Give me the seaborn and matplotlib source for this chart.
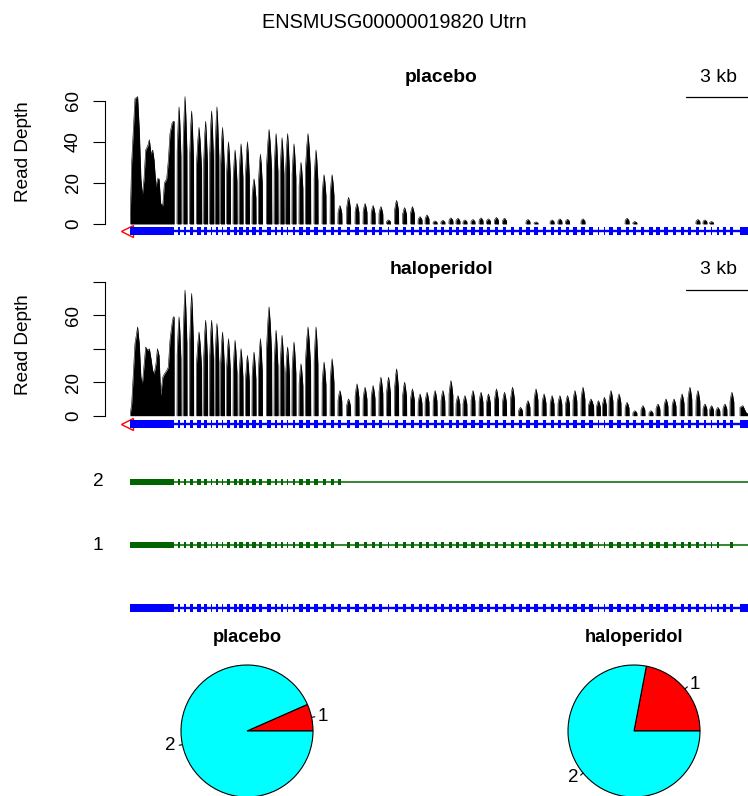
import matplotlib
matplotlib.use("Agg")
import matplotlib.pyplot as plt
from matplotlib.patches import Rectangle
from matplotlib.transforms import blended_transform_factory
import numpy as np
import pandas as pd
import seaborn as sns

# ---------------- data ----------------
gene_title = "ENSMUSG00000019820 Utrn"
conditions = ["placebo", "haloperidol"]
isoform_labels = ["1", "2"]
isoform_share_placebo = [0.066, 0.934]
isoform_share_haloperidol = [0.22, 0.78]
pie_colors = ["red", "cyan"]
scale_bar_kb = 3
scale_bar_label = "3 kb"
y_label = "Read Depth"

gene_span_kb = [0.0, 31.0]
first_exon_kb = [0.0, 2.14]
last_exon_kb = [29.61, 31.0]

exon_center_kb = [2.38, 2.67, 2.99, 3.35, 3.67, 3.96, 4.22, 4.49, 4.78, 5.10,
                  5.39, 5.70, 6.02, 6.33, 6.75, 7.09, 7.38, 7.65, 7.96, 8.30,
                  8.64, 9.03, 9.42, 9.81, 10.19, 10.61, 11.02, 11.41, 11.80, 12.18,
                  12.55, 12.94, 13.33, 13.71, 14.08, 14.42, 14.81, 15.19, 15.58, 15.92,
                  16.26, 16.65, 17.04, 17.40, 17.79, 18.18, 18.57, 18.96, 19.32, 19.71,
                  20.10, 20.49, 20.87, 21.24, 21.60, 21.99, 22.38, 22.74, 23.03, 23.35,
                  23.74, 24.13, 24.51, 24.90, 25.29, 25.63, 26.02, 26.41, 26.80, 27.18,
                  27.57, 27.91, 28.23, 28.54, 28.88, 29.22]
exon_len_bp = [60, 60, 150, 220, 150, 60, 60, 60, 150, 150,
               150, 150, 150, 150, 220, 60, 60, 60, 60, 150,
               220, 150, 150, 150, 150, 150, 150, 150, 150, 150,
               60, 150, 150, 150, 150, 150, 150, 150, 150, 150,
               150, 150, 150, 150, 150, 150, 150, 150, 150, 150,
               150, 150, 150, 150, 150, 150, 220, 60, 60, 150,
               150, 150, 150, 150, 150, 150, 150, 150, 150, 150,
               150, 60, 60, 60, 150, 150]

first_exon_cov_pos_kb = [0.00, 0.08, 0.24, 0.37, 0.45, 0.53, 0.60, 0.68, 0.76, 0.86,
                         0.94, 1.02, 1.10, 1.17, 1.26, 1.33, 1.41, 1.49, 1.59, 1.67,
                         1.78, 1.86, 1.94, 2.04, 2.10]
first_exon_cov_placebo = [0, 30, 61, 62, 46, 22, 14, 22, 36, 38,
                          41, 34, 36, 31, 18, 22, 22, 10, 9, 20,
                          22, 31, 44, 49, 50]
first_exon_cov_haloperidol = [0, 7, 43, 53, 43, 23, 19, 30, 41, 39,
                              40, 34, 27, 25, 31, 40, 36, 12, 23, 25,
                              27, 29, 45, 55, 59]

exon_peak_placebo = [57, 62, 55, 47, 50, 55, 57, 47, 40, 36,
                     39, 40, 22, 34, 46, 44, 42, 44, 39, 30,
                     44, 36, 24, 24, 9, 13, 10, 10, 9, 8.5,
                     2, 11.5, 8, 8.5, 3.6, 4.4, 1.5, 1.8, 3, 2.8,
                     2, 2.2, 3, 2.5, 3.2, 2.8, 0, 0, 2.2, 1,
                     0, 2, 2.5, 2.3, 0, 2.5, 0, 0, 0, 0,
                     0, 2.8, 1.2, 0, 0, 0, 0, 0, 0, 0,
                     2.2, 2.0, 1.2, 0, 0, 0]
exon_peak_haloperidol = [59, 75, 73, 50, 57, 57, 55, 50, 46, 45,
                         40, 36, 38, 46, 65, 51, 48, 41, 44, 31,
                         53, 53, 32, 34, 15, 10, 19, 17, 18, 23,
                         23, 28, 20, 16, 13, 14, 15, 15, 21, 12,
                         12, 15, 14, 13, 16, 14, 17, 5, 9, 16,
                         13, 12, 12, 12, 15, 17, 10, 9, 11, 15,
                         13, 8, 3, 6, 3, 7, 10, 10, 13, 17,
                         15, 7, 6, 5, 7, 14]
last_exon_cov_pos_kb = [29.61, 29.75, 29.90, 30.00]
last_exon_cov_placebo = [0, 0, 0, 0]
last_exon_cov_haloperidol = [5, 6, 2, 1]

# transcript structures (indices into exon_center_kb)
tx2_exon_ids = list(range(0, 25))
tx1_skipped_ids = [24, 74]
transcript_names = ["2", "1"]

yticks_placebo = [0, 20, 40, 60]
yticklabels_placebo = ["0", "20", "40", "60"]
yticks_haloperidol = [0, 20, 40, 60, 80]
yticklabels_haloperidol = ["0", "20", "", "60", ""]

# spike rendering template (shape of per-exon coverage)
spike_x = [0.0, 0.04, 0.3, 0.5, 0.7, 0.96, 1.0]
spike_shape = [0.0, 0.62, 0.88, 1.0, 0.86, 0.58, 0.0]

# ---------------- style ----------------
sns.set_theme(style="white")
plt.rcParams["font.family"] = ["Liberation Sans", "DejaVu Sans"]
plt.rcParams["text.color"] = "black"
plt.rcParams["axes.labelcolor"] = "black"
plt.rcParams["xtick.color"] = "black"
plt.rcParams["ytick.color"] = "black"

W, H = 748, 796
fig = plt.figure(figsize=(W / 100, H / 100), dpi=100)
fig.patch.set_facecolor("white")


def px_axes(left, top, right, bottom):
    return fig.add_axes([left / W, 1 - bottom / H, (right - left) / W, (bottom - top) / H])


def ftext(x, y, s, **kw):
    fig.text(x / W, 1 - y / H, s, ha=kw.pop("ha", "center"), va=kw.pop("va", "center"),
             color="black", **kw)


X0, X1 = 130, 748
XLIM = (0, 30)


def coverage_frame(first_vals, peaks, last_vals):
    rows = []
    xs = [first_exon_kb[0]] + first_exon_cov_pos_kb + [first_exon_kb[1], first_exon_kb[1]]
    ys = [0] + first_vals + [first_vals[-1], 0]
    for x, y in zip(xs, ys):
        rows.append((x, y, -1))
    for i, (c, L, p) in enumerate(zip(exon_center_kb, exon_len_bp, peaks)):
        if p <= 0:
            continue
        hw = (max(L, 150) / 2 + 25) / 1000
        for fx, f in zip(spike_x, spike_shape):
            rows.append((c - hw + 2 * hw * fx, p * f, i))
    if max(last_vals) > 0:
        xs = [last_exon_cov_pos_kb[0]] + last_exon_cov_pos_kb + [last_exon_cov_pos_kb[-1] + 0.05]
        ys = [0] + last_vals + [0]
        for x, y in zip(xs, ys):
            rows.append((x, y, 999))
    return pd.DataFrame(rows, columns=["pos", "depth", "seg"])


def draw_coverage(ax, df, yticks, yticklabels, top_px, bottom_px, title_y):
    for seg, g in df.groupby("seg", sort=False):
        ax.fill_between(g["pos"], 0, g["depth"], color="black", lw=0)
    sns.lineplot(data=df, x="pos", y="depth", units="seg", estimator=None, sort=False,
                 color="black", linewidth=0.4, ax=ax, legend=False)
    ax.set_xlabel("")
    ax.set_ylabel("")
    ax.set_xlim(*XLIM)
    for s in ["top", "right", "bottom"]:
        ax.spines[s].set_visible(False)
    ax.spines["left"].set_position(("outward", 18))
    ax.spines["left"].set_bounds(yticks[0], yticks[-1])
    ax.spines["left"].set_color("black")
    ax.spines["left"].set_linewidth(0.8)
    ax.set_xticks([])
    ax.set_yticks(yticks, yticklabels, rotation=90, va="center", fontsize=13.5, color="black")
    ax.tick_params(axis="y", direction="out", length=8.6, width=0.8, pad=8, colors="black", left=True)
    ax.patch.set_alpha(0)
    ax.grid(False)
    bar_y = (bottom_px - (title_y + 20)) / (bottom_px - top_px)
    tr = blended_transform_factory(ax.transData, ax.transAxes)
    ax.plot([XLIM[1] - scale_bar_kb, XLIM[1] + 1], [bar_y, bar_y], color="black", lw=0.9,
            transform=tr, clip_on=False)


def draw_gene_model(ax, color, exon_ids, include_first=True, include_last=True,
                    exon_h=7.3, intron_lw=1.7, arrow=False):
    ax.set_xlim(*XLIM)
    ax.set_ylim(-10, 10)
    ax.axis("off")
    if arrow:
        ax.plot([gene_span_kb[0] - 0.14], [0], marker="<", ms=9, mfc="none", mec="red",
                mew=1.0, zorder=1, clip_on=False)
    ax.plot(gene_span_kb, [0, 0], color=color, lw=intron_lw, zorder=2, solid_capstyle="butt")
    if include_first:
        ax.add_patch(Rectangle((first_exon_kb[0], -exon_h / 2), first_exon_kb[1] - first_exon_kb[0],
                               exon_h, color=color, lw=0, zorder=3))
    for i in exon_ids:
        w = exon_len_bp[i] / 1000
        ax.add_patch(Rectangle((exon_center_kb[i] - w / 2, -exon_h / 2), w, exon_h,
                               color=color, lw=0, zorder=3))
    if include_last:
        ax.add_patch(Rectangle((last_exon_kb[0], -exon_h / 2), last_exon_kb[1] - last_exon_kb[0],
                               exon_h, color=color, lw=0, zorder=3))


all_ids = list(range(len(exon_center_kb)))
tx1_ids = [i for i in all_ids if i not in tx1_skipped_ids]

# ---- placebo coverage ----
ax1 = px_axes(X0, 90, X1, 224)
df_p = coverage_frame(first_exon_cov_placebo, exon_peak_placebo, last_exon_cov_placebo)
draw_coverage(ax1, df_p, yticks_placebo, yticklabels_placebo, 90, 224, 77)
ax1.set_ylim(0, (224 - 90) / 2.055)
gm1 = px_axes(X0, 221, X1, 241)
draw_gene_model(gm1, "blue", all_ids, arrow=True)

# ---- haloperidol coverage ----
ax2 = px_axes(X0, 276, X1, 415.7)
df_h = coverage_frame(first_exon_cov_haloperidol, exon_peak_haloperidol, last_exon_cov_haloperidol)
draw_coverage(ax2, df_h, yticks_haloperidol, yticklabels_haloperidol, 276, 415.7, 270)
ax2.set_ylim(0, (415.7 - 276) / 1.675)
gm2 = px_axes(X0, 414, X1, 434)
draw_gene_model(gm2, "blue", all_ids, arrow=True)

# ---- transcripts ----
t2 = px_axes(X0, 472, X1, 492)
draw_gene_model(t2, "#006400", tx2_exon_ids, include_last=False, exon_h=6.5, intron_lw=1.1)
t1 = px_axes(X0, 535, X1, 555)
draw_gene_model(t1, "#006400", tx1_ids, include_last=False, exon_h=6.5, intron_lw=1.1)
gm3 = px_axes(X0, 598, X1, 618)
draw_gene_model(gm3, "blue", all_ids)

# ---- texts ----
ftext(394, 22, gene_title, fontsize=14.3)
ftext(441, 77, conditions[0], fontsize=13.9, fontweight="bold")
ftext(441, 270, conditions[1], fontsize=13.9, fontweight="bold")
ftext(719, 77, scale_bar_label, fontsize=14)
ftext(719, 270, scale_bar_label, fontsize=14)
ftext(24, 152, y_label, fontsize=13.7, rotation=90)
ftext(24, 345, y_label, fontsize=13.7, rotation=90)
ftext(98, 482, transcript_names[0], fontsize=13.7)
ftext(98, 545, transcript_names[1], fontsize=13.7)

# ---- pies ----
for cx, name, shares in [(247, conditions[0], isoform_share_placebo),
                         (634, conditions[1], isoform_share_haloperidol)]:
    r = 66
    side = 2 * r * 1.25
    pax = px_axes(cx - side / 2, 731 - side / 2, cx + side / 2, 731 + side / 2)
    wedges, texts = pax.pie(shares, colors=pie_colors, labels=isoform_labels, startangle=0,
                            counterclock=True, labeldistance=1.1,
                            wedgeprops=dict(edgecolor="black", linewidth=0.8),
                            textprops=dict(fontsize=13.5, color="black"))
    for w in wedges:
        ang = np.deg2rad((w.theta1 + w.theta2) / 2)
        pax.plot([np.cos(ang), 1.05 * np.cos(ang)], [np.sin(ang), 1.05 * np.sin(ang)],
                 color="black", lw=0.8)
    pax.set_xlim(-1.25, 1.25)
    pax.set_ylim(-1.25, 1.25)
    pax.set_aspect("equal")
    pax.axis("off")
    ftext(cx, 637, name, fontsize=13.2, fontweight="bold")

fig.savefig("out.png", dpi=100, facecolor="white")
